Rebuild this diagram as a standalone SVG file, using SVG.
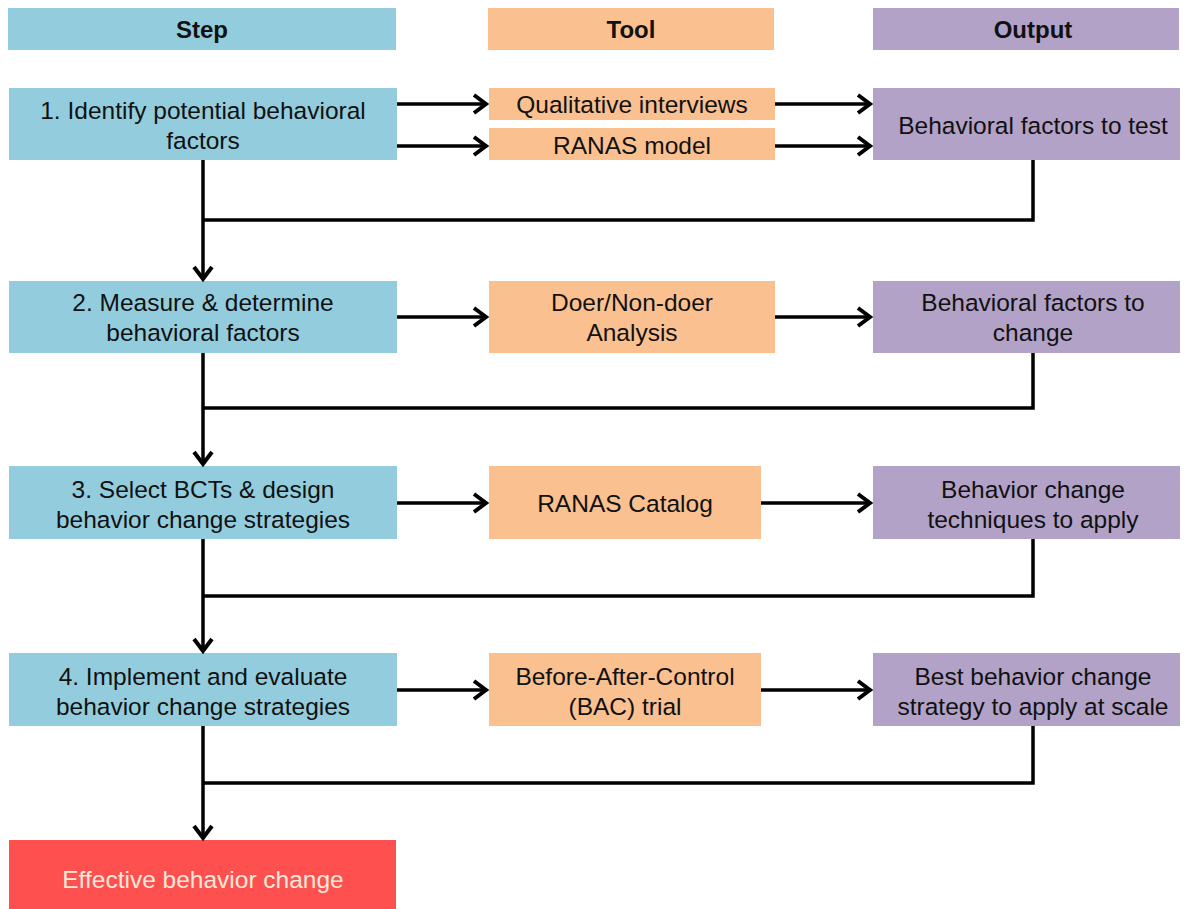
<svg xmlns="http://www.w3.org/2000/svg" width="1185" height="909" viewBox="0 0 1185 909">
<style>
.step{fill:#93CDDD}
.tool{fill:#FAC090}
.out{fill:#B3A2C7}
.end{fill:#FF5050}
text{font-family:"Liberation Sans",Arial,sans-serif;font-size:24.5px;fill:#111;text-anchor:middle}
.hd{font-weight:bold;font-size:24px}
.wt{fill:#FDE9D9}
.c{fill:none;stroke:#000;stroke-width:3.5}
</style>
<defs>
<marker id="ah" markerWidth="20" markerHeight="22" refX="15" refY="11" orient="auto" markerUnits="userSpaceOnUse">
<path d="M3,2 L15,11 L3,20" fill="none" stroke="#000" stroke-width="4" stroke-linejoin="miter"/>
</marker>
</defs>
<rect width="1185" height="909" fill="#fff"/>
<g id="header-step"><rect class="step" x="8" y="8" width="388" height="42"/><text class="hd" x="202" y="38">Step</text></g>
<g id="header-tool"><rect class="tool" x="488" y="8" width="286" height="42"/><text class="hd" x="631" y="38">Tool</text></g>
<g id="header-output"><rect class="out" x="873" y="8" width="306" height="42"/><text class="hd" x="1033" y="38">Output</text></g>

<g id="step1"><rect class="step" x="9" y="88" width="388" height="72"/><text x="203" y="119">1. Identify potential behavioral</text><text x="203" y="149">factors</text></g>
<g id="tool1a"><rect class="tool" x="489" y="88" width="286" height="32"/><text x="632" y="113">Qualitative interviews</text></g>
<g id="tool1b"><rect class="tool" x="489" y="128" width="286" height="32"/><text x="632" y="154">RANAS model</text></g>
<g id="out1"><rect class="out" x="873" y="88" width="307" height="72"/><text x="1033" y="134">Behavioral factors to test</text></g>

<g id="step2"><rect class="step" x="9" y="281" width="388" height="72"/><text x="203" y="311">2. Measure &amp; determine</text><text x="203" y="341">behavioral factors</text></g>
<g id="tool2"><rect class="tool" x="489" y="281" width="286" height="72"/><text x="632" y="311">Doer/Non-doer</text><text x="632" y="341">Analysis</text></g>
<g id="out2"><rect class="out" x="873" y="281" width="307" height="72"/><text x="1033" y="311">Behavioral factors to</text><text x="1033" y="341">change</text></g>

<g id="step3"><rect class="step" x="9" y="466" width="388" height="73"/><text x="203" y="498">3. Select BCTs &amp; design</text><text x="203" y="528">behavior change strategies</text></g>
<g id="tool3"><rect class="tool" x="489" y="466" width="272" height="73"/><text x="625" y="512">RANAS Catalog</text></g>
<g id="out3"><rect class="out" x="873" y="466" width="307" height="73"/><text x="1033" y="498">Behavior change</text><text x="1033" y="528">techniques to apply</text></g>

<g id="step4"><rect class="step" x="9" y="653" width="388" height="73"/><text x="203" y="685">4. Implement and evaluate</text><text x="203" y="715">behavior change strategies</text></g>
<g id="tool4"><rect class="tool" x="489" y="653" width="272" height="73"/><text x="625" y="685">Before-After-Control</text><text x="625" y="715">(BAC) trial</text></g>
<g id="out4"><rect class="out" x="873" y="653" width="307" height="73"/><text x="1033" y="685">Best behavior change</text><text x="1033" y="715">strategy to apply at scale</text></g>

<g id="end"><rect class="end" x="9" y="840" width="387" height="75"/><text class="wt" x="203" y="888">Effective behavior change</text></g>

<g id="connectors">
<line class="c" x1="397" y1="104" x2="486" y2="104" marker-end="url(#ah)"/>
<line class="c" x1="397" y1="146" x2="486" y2="146" marker-end="url(#ah)"/>
<line class="c" x1="775" y1="104" x2="870" y2="104" marker-end="url(#ah)"/>
<line class="c" x1="775" y1="146" x2="870" y2="146" marker-end="url(#ah)"/>
<line class="c" x1="397" y1="317" x2="486" y2="317" marker-end="url(#ah)"/>
<line class="c" x1="775" y1="317" x2="870" y2="317" marker-end="url(#ah)"/>
<line class="c" x1="397" y1="503" x2="486" y2="503" marker-end="url(#ah)"/>
<line class="c" x1="761" y1="503" x2="870" y2="503" marker-end="url(#ah)"/>
<line class="c" x1="397" y1="690" x2="486" y2="690" marker-end="url(#ah)"/>
<line class="c" x1="761" y1="690" x2="870" y2="690" marker-end="url(#ah)"/>
<line class="c" x1="203" y1="160" x2="203" y2="279" marker-end="url(#ah)"/>
<polyline class="c" points="1033,160 1033,220 203,220"/>
<line class="c" x1="203" y1="353" x2="203" y2="464" marker-end="url(#ah)"/>
<polyline class="c" points="1033,353 1033,408 203,408"/>
<line class="c" x1="203" y1="539" x2="203" y2="651" marker-end="url(#ah)"/>
<polyline class="c" points="1033,539 1033,596 203,596"/>
<line class="c" x1="203" y1="726" x2="203" y2="838" marker-end="url(#ah)"/>
<polyline class="c" points="1033,726 1033,783 203,783"/>
</g>
</svg>
